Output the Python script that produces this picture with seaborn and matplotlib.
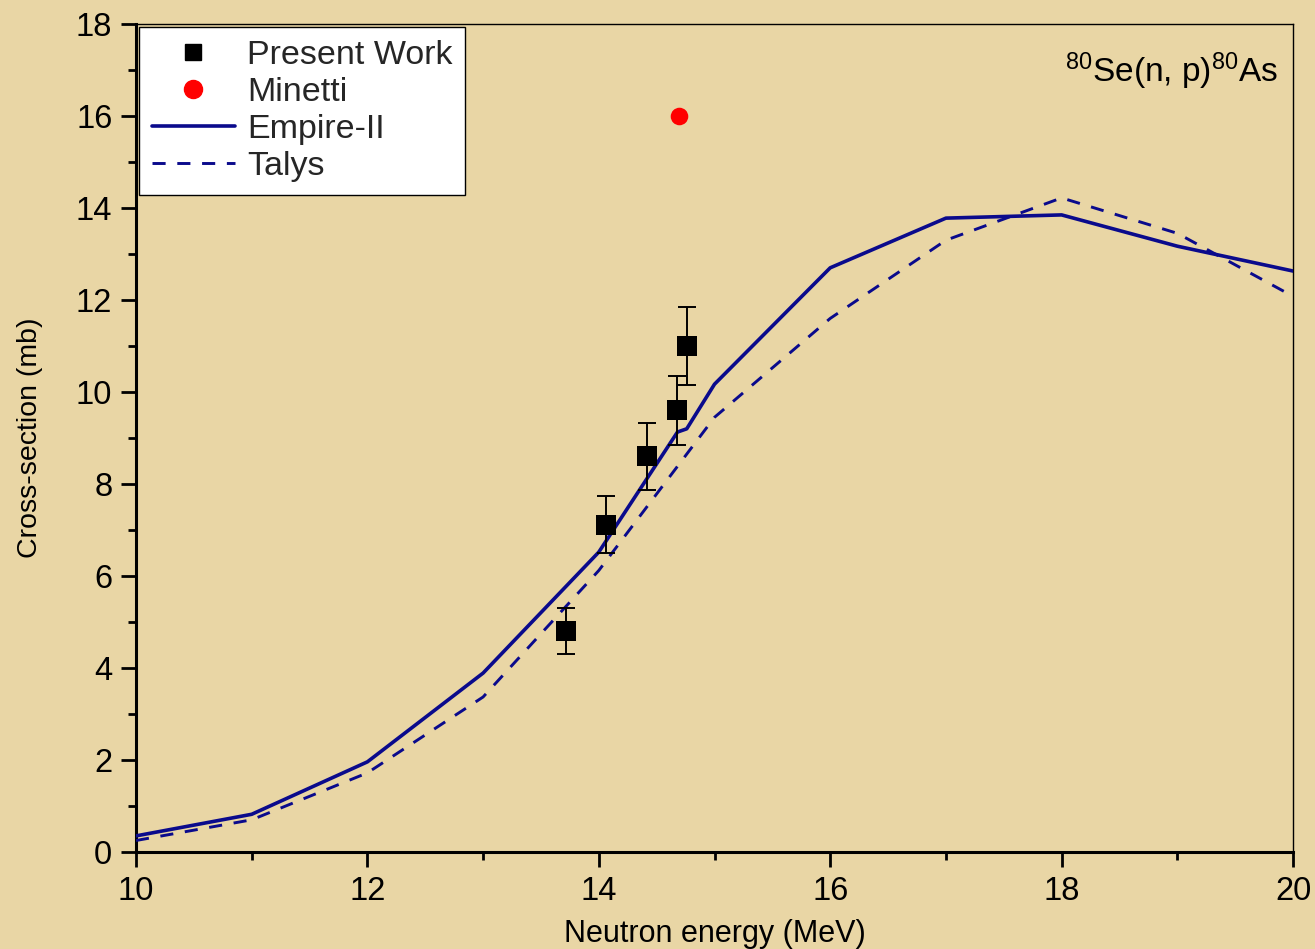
import matplotlib
matplotlib.use("Agg")
import matplotlib.pyplot as plt
from matplotlib.lines import Line2D
from matplotlib.ticker import MultipleLocator
import seaborn as sns
import pandas as pd
import numpy as np

# ---- data ----
pw_energy = [13.72, 14.06, 14.42, 14.68, 14.76]
pw_xs = [4.80, 7.11, 8.60, 9.60, 11.00]
pw_err = [0.50, 0.62, 0.73, 0.75, 0.85]

minetti_energy = [14.69]
minetti_xs = [16.0]

empire_energy = [10, 11, 12, 13, 14, 14.68, 14.76, 15, 16, 17, 18, 19, 20]
empire_xs = [0.35, 0.82, 1.96, 3.89, 6.52, 9.13, 9.20, 10.17, 12.70, 13.78, 13.85, 13.17, 12.63]

talys_energy = [10, 11, 12, 13, 14, 15, 16, 17, 18, 19, 20]
talys_xs = [0.25, 0.70, 1.72, 3.37, 6.12, 9.45, 11.60, 13.30, 14.22, 13.45, 12.08]

x_label = "Neutron energy (MeV)"
y_label = "Cross-section (mb)"
reaction_label = r"$^{80}$Se(n, p)$^{80}$As"

sns.set_theme(style="ticks")
plt.rcParams["font.family"] = ["Liberation Sans", "DejaVu Sans"]
plt.rcParams["mathtext.fontset"] = "custom"
plt.rcParams["mathtext.rm"] = "Liberation Sans"
plt.rcParams["mathtext.it"] = "Liberation Sans:italic"
plt.rcParams["mathtext.bf"] = "Liberation Sans:bold"

bg = "#E9D6A5"
navy = "#0A0A8C"

fig = plt.figure(figsize=(13.15, 9.49), dpi=100, facecolor=bg)
ax = fig.add_axes([0.1034, 0.1022, 0.8799, 0.8725])
ax.set_facecolor(bg)

df_emp = pd.DataFrame({"E": empire_energy, "xs": empire_xs})
df_tal = pd.DataFrame({"E": talys_energy, "xs": talys_xs})
df_pw = pd.DataFrame({"E": pw_energy, "xs": pw_xs, "err": pw_err})
df_min = pd.DataFrame({"E": minetti_energy, "xs": minetti_xs})

sns.lineplot(data=df_emp, x="E", y="xs", ax=ax, color=navy, lw=2.6,
             sort=False, estimator=None, legend=False, zorder=3)
sns.lineplot(data=df_tal, x="E", y="xs", ax=ax, color=navy, lw=2.1,
             sort=False, estimator=None, legend=False, zorder=3,
             linestyle=(0, (4.5, 4)))
ax.errorbar(df_pw["E"], df_pw["xs"], yerr=df_pw["err"], fmt="none",
            ecolor="black", elinewidth=1.4, capsize=6.5, capthick=1.4, zorder=4)
sns.scatterplot(data=df_pw, x="E", y="xs", ax=ax, marker="s", s=200,
                color="black", edgecolor="black", linewidth=0, zorder=5, legend=False)
sns.scatterplot(data=df_min, x="E", y="xs", ax=ax, marker="o", s=160,
                color="#FF0000", edgecolor="#FF0000", linewidth=0, zorder=5, legend=False)

ax.set_xlim(10, 20)
ax.set_ylim(0, 18)
ax.xaxis.set_major_locator(MultipleLocator(2))
ax.xaxis.set_minor_locator(MultipleLocator(1))
ax.yaxis.set_major_locator(MultipleLocator(2))
ax.yaxis.set_minor_locator(MultipleLocator(1))

for side in ["left", "bottom"]:
    ax.spines[side].set_linewidth(2.2)
    ax.spines[side].set_color("black")
for side in ["top", "right"]:
    ax.spines[side].set_visible(True)
    ax.spines[side].set_linewidth(1.0)
    ax.spines[side].set_color("black")

ax.tick_params(which="major", direction="out", length=11, width=2.0,
               labelsize=23.5, color="black", labelcolor="black", pad=6,
               top=False, right=False)
ax.tick_params(which="minor", direction="out", length=5.5, width=2.0,
               color="black", top=False, right=False)

ax.set_xlabel(x_label, fontsize=22, color="black", labelpad=9)
ax.set_ylabel(y_label, fontsize=20.5, color="black", labelpad=24)

ax.text(0.987, 0.968, reaction_label, transform=ax.transAxes, ha="right",
        va="top", fontsize=24, color="black")

handles = [
    Line2D([], [], marker="s", color="black", linestyle="none", markersize=12),
    Line2D([], [], marker="o", color="#FF0000", linestyle="none", markersize=13),
    Line2D([], [], color=navy, lw=2.6),
    Line2D([], [], color=navy, lw=2.1, linestyle=(0, (4.5, 4))),
]
labels = ["Present Work", "Minetti", "Empire-II", "Talys"]
leg = ax.legend(handles, labels, loc="upper left", bbox_to_anchor=(0.0, 1.0),
                fontsize=24.5, frameon=True, fancybox=False, framealpha=1,
                edgecolor="black", facecolor="white", borderaxespad=0.08,
                handlelength=2.45, handletextpad=0.35, labelspacing=0.18,
                borderpad=0.38)
leg.get_frame().set_linewidth(1.0)

fig.savefig("out.png", dpi=100, facecolor=bg)
